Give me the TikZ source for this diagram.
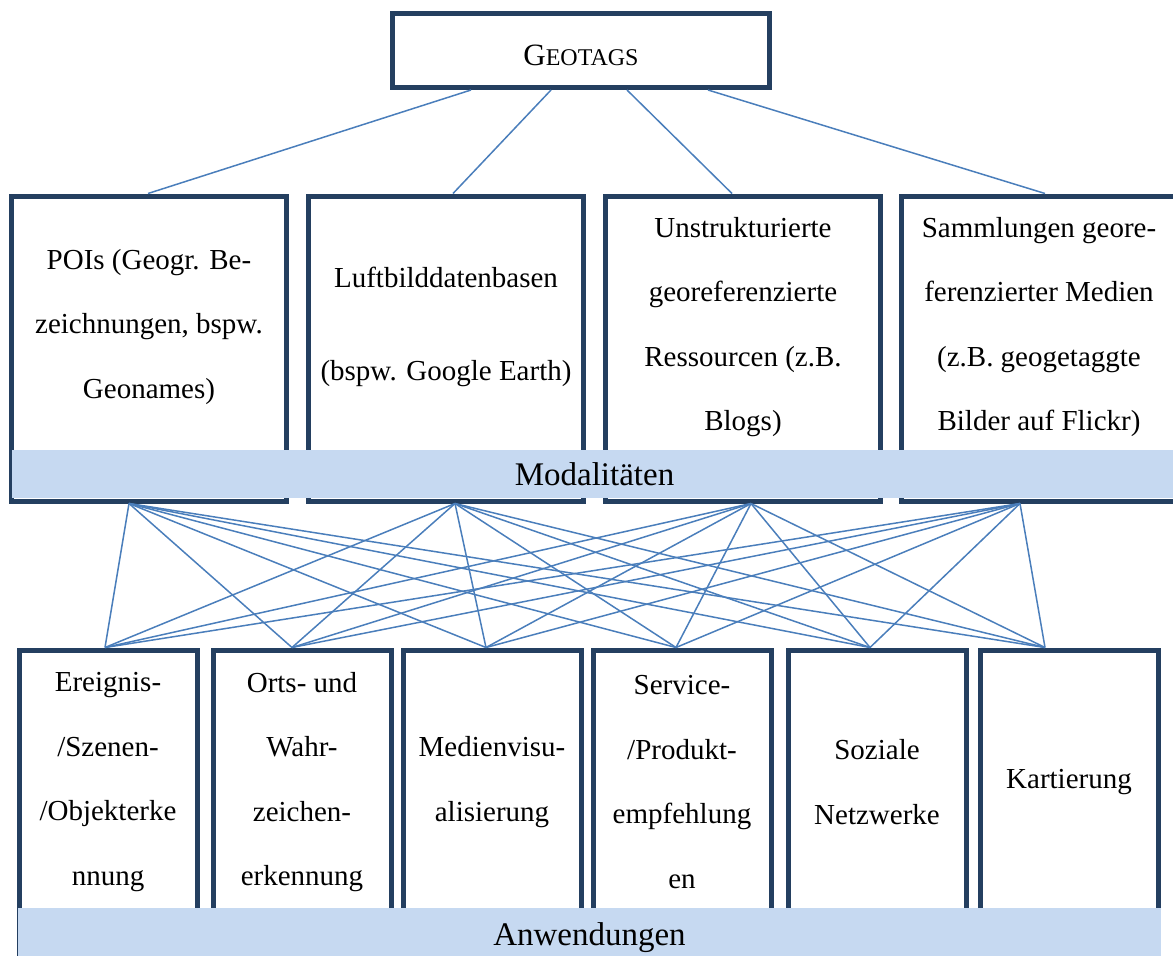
\documentclass[tikz,border=0pt]{standalone}
\usepackage{fontspec}
\setmainfont{Liberation Serif}
\usepackage{tikz}
\usepackage{xcolor}
\usetikzlibrary{positioning}
\definecolor{GT_Navy}{HTML}{243F60}
\definecolor{GT_Line}{HTML}{4A7EBB}
\definecolor{GT_Bar}{HTML}{C6D9F1}

\begin{document}
\begin{tikzpicture}[x=1pt, y=-1pt,
  topbox/.style={draw=GT_Navy, line width=5pt, minimum width=377pt, minimum height=74pt, inner sep=0pt},
  modbox/.style={draw=GT_Navy, line width=5pt, minimum width=275pt, minimum height=305pt, inner sep=0pt},
  appbox/.style={draw=GT_Navy, line width=5pt, minimum width=178pt, minimum height=312pt, inner sep=0pt},
  boxtext/.style={align=center, inner sep=0pt, font=\fontsize{29}{64.5}\selectfont},
  barlabel/.style={fill=GT_Bar, inner sep=0pt, text depth=0pt, font=\fontsize{33}{33}\selectfont},
  link/.style={draw=GT_Line, line width=1.5pt},
]
\useasboundingbox (0,0) rectangle (1173,956);

% --- Geotags ---
\node[topbox, text height=30pt, text depth=0pt] (geo) at (581, 50.5) {{\fontsize{31}{31}\selectfont G}{\fontsize{24}{24}\selectfont EOTAGS}};

% --- Modalitaeten ---
\foreach \name/\cx in {m1/149, m2/446, m3/743, m4/1039}
{
  \node[modbox] (\name) at (\cx, 348.5) {};
}
\node[barlabel, minimum width=1166pt, minimum height=48pt] (modal) at (594.5, 474) {Modalitäten};
\node[boxtext] (m1t) at (149, 327) {POIs (Geogr. Be-\\zeichnungen, bspw.\\Geonames)};
\node[boxtext] (m2t) at (446, 327) {Luftbilddatenbasen\\[28.5pt](bspw. Google Earth)};
\node[boxtext] (m3t) at (743, 327) {Unstrukturierte\\georeferenzierte\\Ressourcen (z.B.\\Blogs)};
\node[boxtext] (m4t) at (1039, 327) {Sammlungen geore-\\ferenzierter Medien\\(z.B. geogetaggte\\Bilder auf Flickr)};

% --- Anwendungen ---
\foreach \name/\cx in {a1/108, a2/302, a3/492, a4/682, a5/877, a6/1069}
{
  \node[appbox] (\name) at (\cx, 806) {};
}
\node[barlabel, minimum width=1143pt, minimum height=52pt] (appl) at (589.5, 934) {Anwendungen};
\node[boxtext] (a1t) at (108, 782) {Ereignis-\\/Szenen-\\/Objekterke\\nnung};
\node[boxtext] (a2t) at (302, 782) {Orts- und\\Wahr-\\zeichen-\\erkennung};
\node[boxtext] (a3t) at (492, 782) {Medienvisu-\\alisierung};
\node[boxtext] (a4t) at (682, 782) {Service-\\/Produkt-\\empfehlung\\en};
\node[boxtext] (a5t) at (877, 782) {Soziale\\Netzwerke};
\node[boxtext] (a6t) at (1069, 782) {Kartierung};

% --- connectors ---
\foreach \off/\dst/\doff in {-110/m1/-1, -30/m2/7, 46/m3/-11, 127/m4/6}
{
  \draw[link] ([xshift=\off pt]geo.south) -- ([xshift=\doff pt]\dst.north);
}
\foreach \src/\soff in {m1/-20, m2/9, m3/8, m4/-19}
{
  \foreach \dst/\doff in {a1/-3, a2/-10, a3/-6, a4/-6, a5/-7, a6/-24}
  {
    \draw[link] ([xshift=\soff pt]\src.south) -- ([xshift=\doff pt]\dst.north);
  }
}

\end{tikzpicture}
\end{document}
